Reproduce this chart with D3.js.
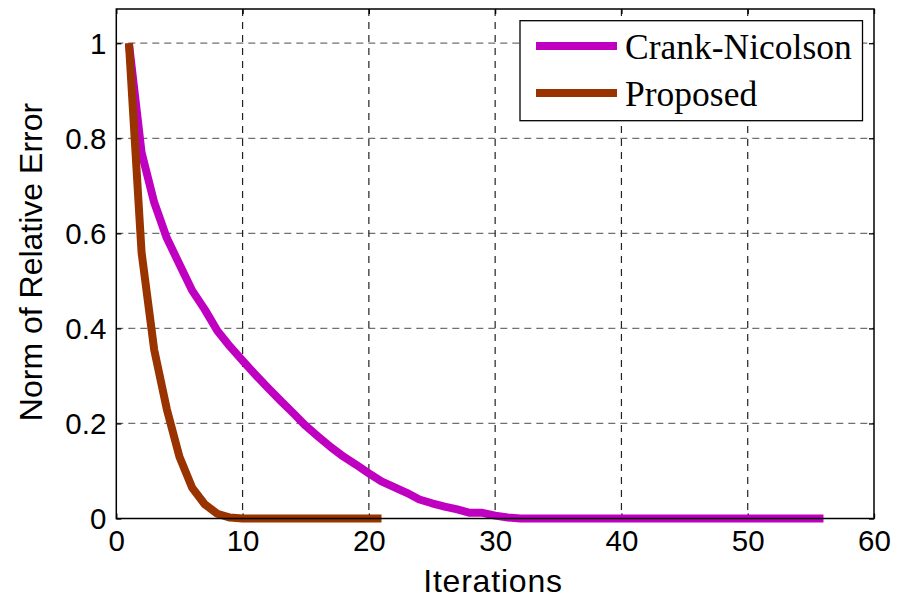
<!DOCTYPE html>
<html><head><meta charset="utf-8">
<script src="https://cdn.jsdelivr.net/npm/d3@7"></script>
<style>body{margin:0;background:#fff}svg{display:block}</style>
</head><body>
<svg id="chart" width="897" height="600"></svg>
<script>
const seriesNames = ["Crank-Nicolson", "Proposed"];
const seriesColors = ["#C000C0", "#993300"];
const crankNicolson = [1.0,0.77,0.665,0.59,0.535,0.48,0.44,0.395,0.362,0.332,0.303,0.275,0.248,0.222,0.195,0.172,0.15,0.13,0.113,0.095,0.078,0.066,0.054,0.04,0.032,0.025,0.019,0.012,0.012,0.006,0.002,
  0,0,0,0,0,0,0,0,0,0,0,0,0,0,0,0,0,0,0,0,0,0,0,0,0];
const proposed = [1.0,0.56,0.355,0.23,0.13,0.065,0.03,0.01,0.002,0,0,0,0,0,0,0,0,0,0,0,0];
const xTicks = [0,10,20,30,40,50,60];
const yTicks = [0,0.2,0.4,0.6,0.8,1];
const xLabel = "Iterations";
const yLabel = "Norm of Relative Error";

const svg = d3.select("#chart");
const L = 116.3, R = 874, T = 9, B = 518.5;
const x = d3.scaleLinear().domain([0,60]).range([L,R]);
const y = d3.scaleLinear().domain([0,1.072]).range([B,T]);

// grid
svg.append("g").selectAll("line").data(yTicks.filter(d=>d>0)).join("line")
  .attr("x1",L).attr("x2",R).attr("y1",d=>y(d)).attr("y2",d=>y(d))
  .attr("stroke","#707070").attr("stroke-width",1.3).attr("stroke-dasharray","7,5");
svg.append("g").selectAll("line").data(xTicks.filter(d=>d>0&&d<60)).join("line")
  .attr("x1",d=>x(d)).attr("x2",d=>x(d)).attr("y1",T).attr("y2",B)
  .attr("stroke","#222").attr("stroke-width",1.2).attr("stroke-dasharray","7,6");

// axes with inward ticks
const fontAx = "Arial, 'Liberation Sans', sans-serif";
const xAxis = svg.append("g").attr("transform",`translate(0,${B})`)
  .call(d3.axisBottom(x).tickValues(xTicks).tickSize(-5).tickPadding(12).tickFormat(d3.format("d")));
const xAxisTop = svg.append("g").attr("transform",`translate(0,${T})`)
  .call(d3.axisTop(x).tickValues(xTicks).tickSize(-5).tickFormat(""));
const yAxis = svg.append("g").attr("transform",`translate(${L},0)`)
  .call(d3.axisLeft(y).tickValues(yTicks).tickSize(-5).tickPadding(10).tickFormat(d=>d===0?"0":d===1?"1":d3.format(".1f")(d)));
const yAxisR = svg.append("g").attr("transform",`translate(${R},0)`)
  .call(d3.axisRight(y).tickValues(yTicks).tickSize(-5).tickFormat(""));
[xAxis,xAxisTop,yAxis,yAxisR].forEach(g=>{
  g.select(".domain").remove();
  g.selectAll(".tick line").attr("stroke","#000").attr("stroke-width",1.3);
  g.selectAll("text").attr("font-family",fontAx).attr("font-size",29.5).attr("fill","#000");
});
xAxis.selectAll("text").attr("dy","0.71em");
yAxis.selectAll("text").attr("dy","0.35em");

// lines
const line = d3.line().x((d,i)=>x(i+1)).y(d=>y(d));
[crankNicolson, proposed].forEach((data,i)=>{
  svg.append("path").datum(data).attr("d",line).attr("fill","none")
    .attr("stroke",seriesColors[i]).attr("stroke-width",8).attr("stroke-linejoin","round");
});

// frame
svg.append("rect").attr("x",L).attr("y",T).attr("width",R-L).attr("height",B-T)
  .attr("fill","none").attr("stroke","#000").attr("stroke-width",1.5);

// labels
svg.append("text").attr("x",493).attr("y",592).attr("text-anchor","middle")
  .attr("font-family",fontAx).attr("font-size",32).attr("letter-spacing",0.8).text(xLabel);
svg.append("text").attr("transform","translate(42,262) rotate(-90)").attr("text-anchor","middle")
  .attr("font-family",fontAx).attr("font-size",32).text(yLabel);

// legend
const lg = svg.append("g");
lg.append("rect").attr("x",520).attr("y",20.7).attr("width",342.5).attr("height",100)
  .attr("fill","#fff").attr("stroke","#000").attr("stroke-width",1.3);
seriesNames.forEach((n,i)=>{
  const yy = 46 + i*47;
  lg.append("line").attr("x1",536).attr("x2",617).attr("y1",yy).attr("y2",yy)
    .attr("stroke",seriesColors[i]).attr("stroke-width",8);
  lg.append("text").attr("x",625).attr("y",yy+13).attr("font-family","'Liberation Serif','Times New Roman',serif")
    .attr("font-size",35.5).text(n);
});
</script>
</body></html>
